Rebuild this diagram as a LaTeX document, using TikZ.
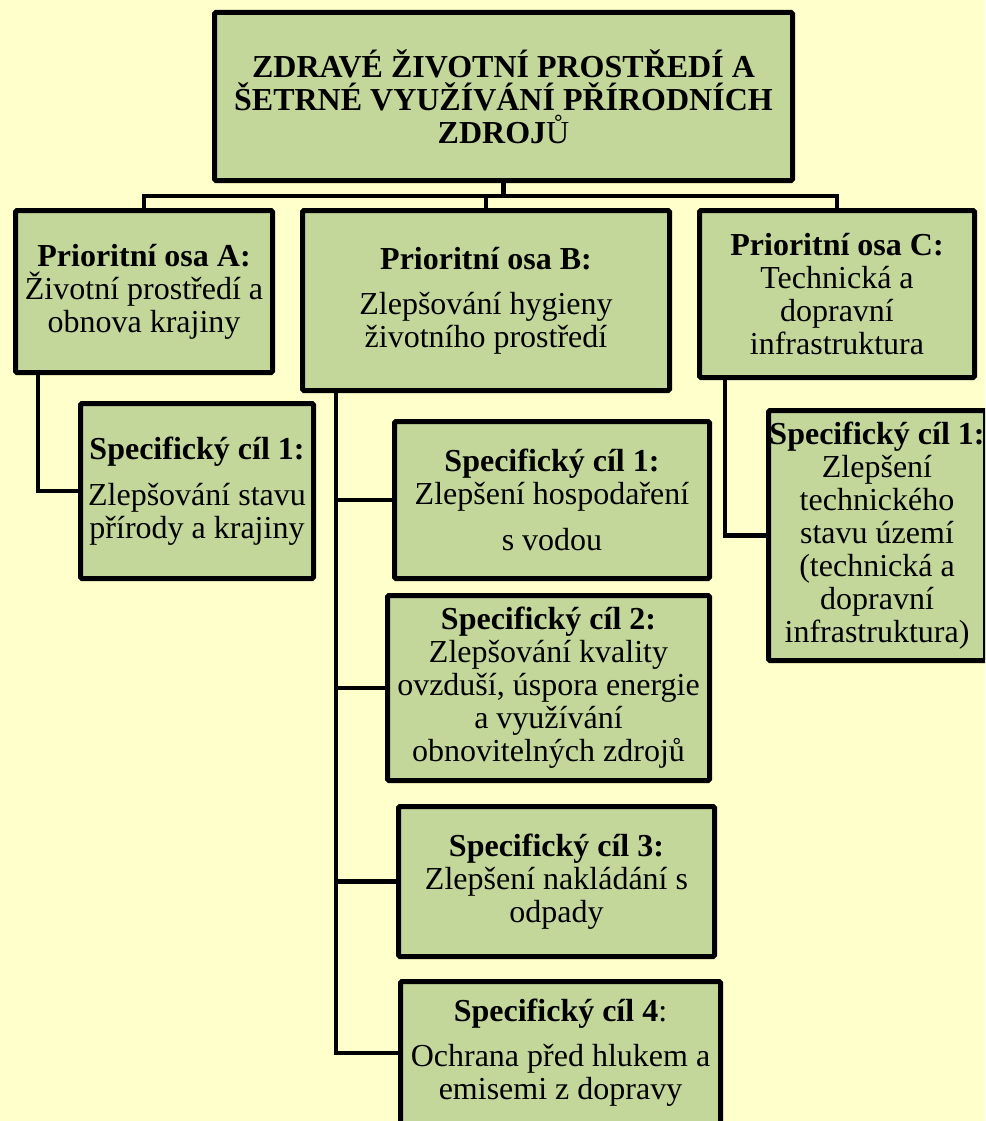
\documentclass[tikz,border=0pt]{standalone}
\usepackage{fontspec}
\setmainfont{Liberation Serif}
\definecolor{bgcol}{HTML}{FFFFCC}
\definecolor{boxcol}{HTML}{C4D79B}
\newcommand\myboxfont{\fontsize{32}{33}\selectfont\lineskiplimit-1000pt\relax\lineskip0pt\relax}
\tikzset{
  boxnode/.style={draw=black, line width=5pt, fill=boxcol, rounded corners=1.5pt,
    align=center, inner sep=0pt, text=black, font=\myboxfont},
  conn/.style={draw=black, line width=4.4pt, line join=miter}
}
\begin{document}
\begin{tikzpicture}[x=1pt,y=-1pt]
\useasboundingbox (0,0) rectangle (985,1121);
\fill[bgcol] (0,0) rectangle (985,1121);
\begin{scope}
\clip (0,0) rectangle (985,1121);
\coordinate (bus) at (503,196);
\node[boxnode, minimum width=578pt, minimum height=168pt, font=\myboxfont\bfseries] (T) at (503.5,96.5)
  {ZDRAVÉ ŽIVOTNÍ PROSTŘEDÍ A\\ŠETRNÉ VYUŽÍVÁNÍ PŘÍRODNÍCH\\ZDROJ\mdseries Ů};
\node[boxnode, minimum width=257pt, minimum height=162pt] (A) at (144,291.5)
  {\textbf{Prioritní osa A:}\\Životní prostředí a\\obnova krajiny};
\node[boxnode, minimum width=367pt, minimum height=180pt] (B) at (486,300.5)
  {\textbf{Prioritní osa B:}\\[12pt]Zlepšování hygieny\\životního prostředí};
\node[boxnode, minimum width=275pt, minimum height=167pt] (C) at (837,294)
  {\textbf{Prioritní osa C:}\\Technická a\\dopravní\\infrastruktura};
\node[boxnode, minimum width=233pt, minimum height=175pt] (A1) at (197,491)
  {\textbf{Specifický cíl 1:}\\[13pt]Zlepšování stavu\\přírody a krajiny};
\node[boxnode, minimum width=315pt, minimum height=157pt] (B1) at (552,500)
  {\textbf{Specifický cíl 1:}\\Zlepšení hospodaření\\[13pt]s vodou};
\node[boxnode, minimum width=322pt, minimum height=185pt] (B2) at (548.5,688)
  {\textbf{Specifický cíl 2:}\\Zlepšování kvality\\ovzduší, úspora energie\\a využívání\\obnovitelných zdrojů};
\node[boxnode, minimum width=316pt, minimum height=150pt] (B3) at (556.5,881.5)
  {\textbf{Specifický cíl 3:}\\Zlepšení nakládání s\\odpady};
\node[boxnode, minimum width=320pt, minimum height=143pt] (B4) at (560.5,1053)
  {\textbf{Specifický cíl 4}:\\[12pt]Ochrana před hlukem a\\emisemi z dopravy};
\node[boxnode, minimum width=217pt, minimum height=250pt] (C1) at (877,535.5)
  {\textbf{Specifický cíl 1:}\\Zlepšení\\technického\\stavu území\\(technická a\\dopravní\\infrastruktura)};
\coordinate (aT) at ([xshift=25pt]A.south west);
\coordinate (bT) at ([xshift=36pt]B.south west);
\coordinate (cT) at ([xshift=28pt]C.south west);
\draw[conn] (T.south) -- (T.south |- bus);
\draw[conn] (A.north) -- (A.north |- bus) -- (C.north |- bus) -- (C.north);
\draw[conn] (B.north) -- (B.north |- bus);
\draw[conn] (aT) |- (A1.west);
\draw[conn] (bT) |- (B4.west);
\draw[conn] (B1.west) -- (B1.west -| bT);
\draw[conn] (B2.west) -- (B2.west -| bT);
\draw[conn] (B3.west) -- (B3.west -| bT);
\draw[conn] (cT) |- (C1.west);
\end{scope}
\end{tikzpicture}
\end{document}
